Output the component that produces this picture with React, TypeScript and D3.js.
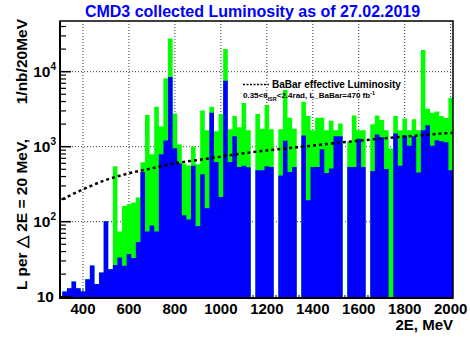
import React from 'react';
import * as d3 from 'd3';

const W = 470;
const H = 337;

// Bin centres (MeV), 20 MeV bins
const binCenters = [
  320, 340, 360, 380, 400, 420, 440, 460, 480, 500,
  520, 540, 560, 580, 600, 620, 640, 660, 680, 700,
  720, 740, 760, 780, 800, 820, 840, 860, 880, 900,
  920, 940, 960, 980, 1000, 1020, 1040, 1060, 1080, 1100,
  1120, 1140, 1160, 1180, 1200, 1220, 1240, 1260, 1280, 1300,
  1320, 1340, 1360, 1380, 1400, 1420, 1440, 1460, 1480, 1500,
  1520, 1540, 1560, 1580, 1600, 1620, 1640, 1660, 1680, 1700,
  1720, 1740, 1760, 1780, 1800, 1820, 1840, 1860, 1880, 1900,
  1920, 1940, 1960, 1980, 2000,
];

// Total collected luminosity (green), 1/nb per 20 MeV
const greenTotal = [
  11.7, 13, 16, 13, 11.7, 17.1, 26, 14.8, 21, 101,
  23.3, 548, 74, 162, 171, 180, 211, 621, 2636, 794,
  3405, 1862, 8150, 27600, 2775, 1069, 596, 560, 1005, 584,
  3043, 1660, 3405, 1610, 2718, 20100, 1713, 2556, 1823, 3811,
  1660, 0, 2718, 1730, 3587, 1714, 0, 1714, 5689, 2427,
  1730, 0, 3973, 2556, 1660, 2427, 2427, 1660, 2213, 1660,
  2040, 0, 1172, 2608, 1660, 1660, 0, 1999, 2608, 2261,
  1660, 946, 2556, 1660, 2377, 1660, 2329, 1660, 19500, 3204,
  2833, 2950, 2556, 2404, 4495,
];

// Part of the luminosity shown in blue
const blueValues = [
  11.7, 13, 16, 13, 11.7, 17.1, 26, 14.8, 21, 101,
  23.3, 26.4, 33.4, 25.8, 37, 32.7, 53.5, 461, 74, 89,
  74, 794, 1209, 8490, 955, 596, 122, 107, 555, 87.5,
  429, 151, 2833, 627, 214, 7586, 627, 1381, 537, 555,
  532, 0, 485, 485, 549, 537, 0, 412, 1197, 461,
  537, 0, 1410, 193, 537, 537, 926, 447, 511, 1381,
  1381, 0, 537, 537, 1273, 537, 0, 475, 1455, 1340,
  506, 0, 1500, 555, 1410, 1026, 1381, 452, 1660, 1937,
  1026, 1222, 1184, 1148, 485,
];

// BaBar effective luminosity curve
const babarE = [310, 400, 500, 600, 700, 800, 900, 1000, 1130, 1330, 1630, 2010];
const babarL = [199, 270, 360, 442, 515, 601, 665, 736, 841, 981, 1227, 1537];

const xTicks = [400, 600, 800, 1000, 1200, 1400, 1600, 1800, 2000];
const xGrid = [400, 600, 800, 1000, 1200, 1400, 1600, 1800, 2000];
const yDecades = [10, 100, 1000, 10000];
const yDecadeExp = ['', '2', '3', '4'];

const FONT = '"Liberation Sans", Arial, Helvetica, sans-serif';

export default function App() {
  const left = 60, right = 453, top = 21, bottom = 298;
  const x = d3.scaleLinear().domain([300, 2010]).range([left, right]);
  const y = d3.scaleLog().domain([9.61, 47400]).range([bottom, top]);

  const barPath = (vals: number[]) => {
    let p = '';
    binCenters.forEach((c, i) => {
      const v = vals[i];
      if (!v || v <= 0) return;
      const x0 = x(Math.max(300, c - 10));
      const x1 = x(Math.min(2010, c + 10));
      const yy = Math.max(top, y(v));
      p += `M${x0},${bottom}V${yy}H${x1}V${bottom}Z`;
    });
    return p;
  };

  const line = d3
    .line<number>()
    .x((_, i) => x(babarE[i]))
    .y((d) => y(d))
    .curve(d3.curveMonotoneX);

  const minorY: number[] = [];
  [10, 100, 1000, 10000].forEach((d) => {
    for (let m = 2; m <= 9; m++) {
      const v = d * m;
      if (v < 47400) minorY.push(v);
    }
  });
  const minorX: number[] = [];
  for (let v = 320; v <= 2000; v += 20) minorX.push(v);

  return (
    <svg width={W} height={H} style={{ position: 'absolute', left: 0, top: 0, background: '#fff' }}
      fontFamily={FONT}>
      <rect x={0} y={0} width={W} height={H} fill="#fff" />
      {/* grid */}
      {xGrid.map((g) => (
        <line key={'gx' + g} x1={x(g)} x2={x(g)} y1={top} y2={bottom} stroke="#000"
          strokeWidth={0.8} strokeDasharray="1,2" />
      ))}
      {[100, 1000, 10000].map((g) => (
        <line key={'gy' + g} x1={left} x2={right} y1={y(g)} y2={y(g)} stroke="#000"
          strokeWidth={0.8} strokeDasharray="1,2" />
      ))}
      {/* x ticks (under bars) */}
      {minorX.map((t) => (
        <line key={'mx' + t} x1={x(t)} x2={x(t)} y1={bottom} y2={bottom - (t % 200 === 0 ? 9 : t % 100 === 0 ? 6 : 3)}
          stroke="#000" strokeWidth={1} />
      ))}
      {/* histograms */}
      <path d={barPath(greenTotal)} fill="#00ff00" />
      <path d={barPath(blueValues)} fill="#0000ff" />
      {/* BaBar curve */}
      <path d={line(babarL) || ''} fill="none" stroke="#000" strokeWidth={2.5} strokeDasharray="3,3" />
      {/* frame */}
      <rect x={left} y={top} width={right - left} height={bottom - top} fill="none" stroke="#000" strokeWidth={1.5} />
      <line x1={left} x2={left} y1={top} y2={bottom + 1} stroke="#000" strokeWidth={2} />
      <line x1={left} x2={right} y1={bottom} y2={bottom} stroke="#000" strokeWidth={2} />
      {/* y ticks */}
      {yDecades.map((d) => (
        <line key={'ty' + d} x1={left} x2={left + 11} y1={y(d)} y2={y(d)} stroke="#000" strokeWidth={1.5} />
      ))}
      {minorY.map((d) => (
        <line key={'tmy' + d} x1={left} x2={left + 6} y1={y(d)} y2={y(d)} stroke="#000" strokeWidth={1.2} />
      ))}
      {/* y tick labels */}
      {yDecades.map((d, i) => (
        <text key={'ly' + d} x={i === 0 ? 54 : 56} y={y(d) + 5.5} textAnchor="end" fontSize={15.5} fontWeight="bold">
          10
          {yDecadeExp[i] ? <tspan dy={-7} fontSize={10}>{yDecadeExp[i]}</tspan> : null}
        </text>
      ))}
      {/* x tick labels */}
      {xTicks.map((t) => (
        <text key={'lx' + t} x={x(t)} y={313.5} textAnchor="middle" fontSize={15} fontWeight="bold">
          {t}
        </text>
      ))}
      {/* axis titles */}
      <text x={453} y={330} textAnchor="end" fontSize={15} fontWeight="bold">2E, MeV</text>
      <text transform="translate(27,290) rotate(-90)" textAnchor="start" fontSize={15.5} fontWeight="bold">
        L per △ 2E = 20 MeV,
      </text>
      <text transform="translate(27,19) rotate(-90)" textAnchor="end" fontSize={15.5} fontWeight="bold">
        1/nb/20MeV
      </text>
      {/* title */}
      <text x={252.5} y={16.5} textAnchor="middle" fontSize={16} fontWeight="bold" fill="#0000ff">
        CMD3 collected Luminosity as of 27.02.2019
      </text>
      {/* legend */}
      <line x1={243} x2={269} y1={84.5} y2={84.5} stroke="#000" strokeWidth={1.3} strokeDasharray="2,1.5" />
      <text x={272} y={88} fontSize={10} fontWeight="bold">BaBar effective Luminosity</text>
      <text x={243} y={98} fontSize={8} fontWeight="bold">
        0.35&lt;θ<tspan dy={3} fontSize={5.5}>ISR</tspan>
        <tspan dy={-3}>&lt;2.4rad, L_BaBar=470 fb</tspan>
        <tspan dy={-3} fontSize={5.5}>-1</tspan>
      </text>
    </svg>
  );
}
